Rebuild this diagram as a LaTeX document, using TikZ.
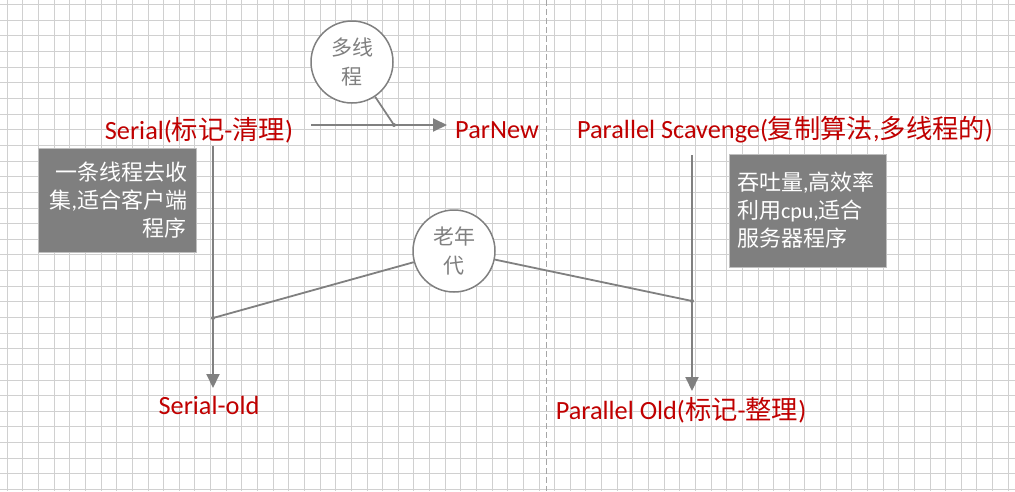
\documentclass[tikz,border=0pt]{standalone}
\usepackage{fontspec}
\setmainfont{Carlito}
\newfontfamily\cjk{Noto Sans CJK SC}
\usetikzlibrary{arrows.meta}
\definecolor{lnc}{HTML}{808080}
\definecolor{redt}{HTML}{C00000}
\definecolor{gridc}{HTML}{D0D0D0}
\definecolor{boxc}{HTML}{7F7F7F}
\definecolor{boxb}{HTML}{BFBFBF}
\newcommand{\zh}[1]{{\cjk #1}}
\begin{document}
\begin{tikzpicture}[x=1pt,y=-1pt,
  conn/.style={draw=lnc,line width=2pt},
  arr/.style={conn,-{Triangle[length=14pt,width=13pt]}},
  lbl/.style={text=redt,font=\fontsize{26.3}{30}\selectfont,inner sep=0pt},
  bubble/.style={circle,draw=lnc,line width=1.5pt,fill=white,minimum size=82pt,inner sep=0pt,text=lnc,align=center,font=\fontsize{21}{29}\selectfont\cjk},
  note/.style={fill=boxc,draw=boxb,line width=0.8pt,text=white,font=\fontsize{22}{28}\selectfont,inner ysep=0pt},
  jdot/.style={circle,fill=lnc,inner sep=0pt,minimum size=4pt}]
\useasboundingbox (0,0) rectangle (1015,491);
\fill[white] (0,0) rectangle (1015,491);
% grid
\foreach \i in {0,...,64} \draw[gridc,line width=1pt] ({7.3+15.64*\i},0) -- ++(0,491);
\foreach \j in {0,...,31} \draw[gridc,line width=1pt] (0,{4.7+15.64*\j}) -- ++(1015,0);
% dashed separator
\draw[draw=lnc!70,line width=1pt,dash pattern=on 6pt off 3pt] (546,0) -- (546,491);

% labels
\node[lbl] (serial) at (199,130) {Serial(\zh{标记}-\zh{清理})};
\node[lbl] (parnew) at (497,130) {ParNew};
\node[lbl] (ps) at (785,130) {Parallel Scavenge(\zh{复制算法},\zh{多线程的})};
\node[lbl] (sold) at (209,405) {Serial-old};
\node[lbl] (pold) at (681,410) {Parallel Old(\zh{标记}-\zh{整理})};

% notes
\node[note,minimum width=158pt,minimum height=104pt,text width=140pt,inner xsep=9pt,align=right] (n1) at (117,200)
  {\zh{一条线程去收}\\\zh{集},\zh{适合客户端}\\\zh{程序}};
\node[note,minimum width=157pt,minimum height=113pt,text width=141pt,inner xsep=8pt,align=left] (n2) at (807.5,210.5)
  {\zh{吞吐量},\zh{高效率}\\\zh{利用}cpu,\zh{适合}\\\zh{服务器程序}};

% coordinates
\coordinate (a1) at (311,125);
\coordinate (a2) at (447,125);
\coordinate (j0) at (394,125);
\coordinate (s1) at (213,146);
\coordinate (t1) at (213,388);
\coordinate (s2) at (692,155);
\coordinate (t2) at (692,391);
\coordinate (j1) at (213,318);
\coordinate (j2) at (692,301);

% arrows
\draw[arr] (a1) -- (a2);
\draw[arr] (s1) -- (t1);
\draw[arr] (s2) -- (t2);

% bubbles
\node[bubble] (mt) at (352,62) {多线\\程};
\node[bubble] (old) at (454,251) {老年\\代};
\draw[conn,line width=1.8pt] (mt) -- (j0);
\draw[conn,line width=1.8pt] (old) -- (j1);
\draw[conn,line width=1.8pt] (old) -- (j2);
\node[jdot] at (j0) {};
\node[jdot] at (j1) {};
\node[jdot] at (j2) {};
\end{tikzpicture}
\end{document}
